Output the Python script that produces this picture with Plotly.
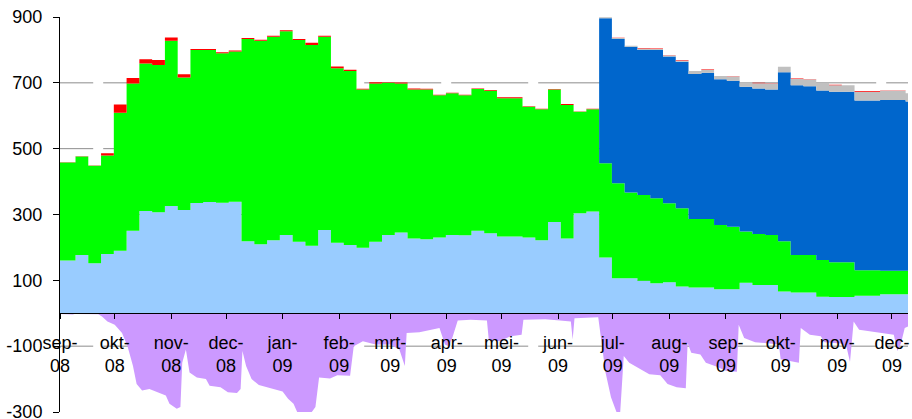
import pandas as pd
import plotly.graph_objects as go

# ---------------- data ----------------
# weekly series; first value from 1 Sep 2008, then weekly changes
first_date = "2008-09-01"
week_change_start = "2008-09-09 12:00"
n_changes = 66
end_date = "2009-12-09 19:00"

light_blue = [160, 177, 152, 180, 190, 251, 311, 307, 326, 314,
              335, 338, 336, 339, 219, 210, 222, 238, 217, 205,
              253, 214, 207, 199, 217, 238, 245, 227, 225, 230,
              238, 237, 251, 243, 233, 233, 230, 222, 277, 227,
              304, 309, 169, 106, 106, 99, 91, 94, 81, 78,
              78, 73, 73, 93, 86, 86, 66, 63, 63, 50,
              49, 49, 53, 53, 58, 58, 58]

green = [298, 299, 296, 299, 419, 447, 448, 447, 502, 402,
         465, 462, 454, 456, 614, 618, 618, 619, 613, 610,
         587, 530, 529, 481, 481, 462, 453, 453, 455, 432,
         430, 425, 430, 433, 420, 420, 397, 398, 403, 406,
         308, 311, 287, 289, 261, 260, 258, 240, 238, 208,
         208, 195, 190, 155, 155, 152, 153, 114, 114, 112,
         106, 106, 78, 78, 71, 71, 71]

dark_blue = [0] * 42 + [440, 438, 443, 441, 451, 446, 445, 441,
                        445, 443, 443, 440, 442, 442, 513, 516, 513, 515,
                        518, 518, 515, 515, 519, 519, 514]

grey = [0] * 42 + [3, 3, 3, 4, 3, 3, 4, 9,
                   9, 10, 13, 13, 16, 17, 17, 19, 20, 23,
                   20, 20, 27, 27, 28, 28, 25]

red = [1, 1, 1, 7, 25, 17, 13, 15, 10, 10,
       3, 3, 3, 3, 3, 3, 3, 3, 3, 7,
       3, 6, 4, 2, 4, 2, 3, 3, 2, 2,
       2, 2, 2, 2, 3, 3, 2, 1, 1, 3,
       1, 1, 0, 1, 0, 2, 1, 1, 1, 0,
       1, 0, 1, 0, 1, 1, 0, 1, 1, 0,
       1, 0, 2, 2, 1, 1, 0]

# daily-ish negative series: days since 1 Sep 2008 and values
purple_days = [0, 7, 8, 21, 23, 26, 30, 34, 37, 40, 42, 45, 49, 54, 58, 60, 64, 66, 67, 69,
               71, 75, 80, 82, 88, 92, 97, 99, 100, 102, 105, 109, 113, 117, 122, 125, 128, 130, 134, 138,
               140, 142, 148, 152, 159, 161, 166, 173, 181, 186, 189, 190, 197, 204, 208, 211, 213, 215, 218, 225,
               234, 235, 241, 247, 253, 254, 266, 274, 280, 281, 282, 295, 297, 299, 302, 305, 307, 309, 312, 318,
               323, 329, 333, 338, 343, 344, 346, 351, 354, 359, 365, 371, 372, 375, 381, 389, 394, 395, 400, 405,
               406, 411, 417, 419, 428, 431, 433, 435, 438, 445, 452, 457, 459, 461, 463, 464.8]
purple = [-2, -4, -2, -3, -10, -25, -35, -60, -100, -160, -215, -235, -230, -240, -250, -275, -290, -285, -150, -110,
          -180, -195, -200, -220, -225, -240, -242, -230, -115, -160, -200, -218, -225, -230, -238, -260, -275, -300, -305, -300,
          -285, -195, -198, -188, -190, -100, -85, -95, -95, -110, -160, -60, -58, -50, -45, -95, -100, -75, -22, -20,
          -22, -80, -85, -70, -65, -20, -18, -22, -25, -80, -15, -12, -100, -180, -255, -300, -305, -130, -150, -170,
          -185, -188, -215, -225, -228, -90, -120, -125, -150, -160, -175, -178, -35, -75, -88, -92, -95, -140, -145, -150,
          -45, -65, -70, -88, -92, -100, -148, -25, -50, -55, -60, -65, -115, -90, -45, -40]

month_ticks = ["2008-09-01", "2008-10-01", "2008-11-01", "2008-12-01", "2009-01-01", "2009-02-01",
               "2009-03-01", "2009-04-01", "2009-05-01", "2009-06-01", "2009-07-01", "2009-08-01",
               "2009-09-01", "2009-10-01", "2009-11-01", "2009-12-01"]
month_labels = ["sep-<br>08", "okt-<br>08", "nov-<br>08", "dec-<br>08", "jan-<br>09", "feb-<br>09",
                "mrt-<br>09", "apr-<br>09", "mei-<br>09", "jun-<br>09", "jul-<br>09", "aug-<br>09",
                "sep-<br>09", "okt-<br>09", "nov-<br>09", "dec-<br>09"]
y_ticks = [-300, -100, 100, 300, 500, 700, 900]
y_tick_labels = ["-300", "-100", "100", "300", "500", "700", "900"]
grid_values = [-100, 100, 300, 500, 700]

# ---------------- build ----------------
x_week = ([pd.Timestamp(first_date)]
          + list(pd.date_range(week_change_start, periods=n_changes, freq="7D"))
          + [pd.Timestamp(end_date)])


def ext(v):
    return list(v) + [v[-1]]


x_purple = [pd.Timestamp(first_date) + pd.Timedelta(days=d) for d in purple_days]

FONT = "Liberation Sans, Arial, sans-serif"

fig = go.Figure()
series = [
    (light_blue, "#99CCFF"),
    (green, "#00FF00"),
    (dark_blue, "#0066CC"),
    (grey, "#C0C0C0"),
    (red, "#FF0000"),
]
for vals, col in series:
    fig.add_trace(go.Scatter(
        x=x_week, y=ext(vals), mode="lines", stackgroup="pos",
        line=dict(width=0, shape="hv", color=col), fillcolor=col,
        hoverinfo="skip", showlegend=False))

fig.add_trace(go.Scatter(
    x=x_purple, y=purple, mode="lines", fill="tozeroy",
    line=dict(width=0, color="#CC99FF"), fillcolor="#CC99FF",
    hoverinfo="skip", showlegend=False))

for gv in grid_values:
    fig.add_shape(type="line", xref="x", yref="y",
                  x0="2008-08-08", x1=end_date, y0=gv, y1=gv,
                  line=dict(color="#8c8c8c", width=1, dash="77px,10px"),
                  layer="below")

fig.update_layout(
    width=912, height=419,
    margin=dict(l=60, r=4, t=17, b=7),
    paper_bgcolor="white", plot_bgcolor="white",
    font=dict(family=FONT, size=18, color="black"),
    showlegend=False,
    xaxis=dict(
        type="date", range=[first_date, end_date],
        anchor="free", position=0.25,
        tickvals=month_ticks, ticktext=month_labels,
        ticks="outside", ticklen=5, tickcolor="black", tickwidth=1,
        showline=True, linecolor="black", linewidth=1,
        showgrid=False, zeroline=False, automargin=False,
        ticklabelstandoff=8, ticklabeloverflow="allow",
        tickfont=dict(family=FONT, size=18, color="black"),
    ),
    yaxis=dict(
        range=[-300, 900], tickvals=y_ticks, ticktext=y_tick_labels,
        ticks="outside", ticklen=6, tickcolor="black", tickwidth=1,
        showline=True, linecolor="black", linewidth=1,
        showgrid=False, zeroline=False, automargin=False,
        ticklabelstandoff=7, ticklabeloverflow="allow",
        tickfont=dict(family=FONT, size=18, color="black"),
    ),
)

fig.write_html(
    "out.html",
    config={"displayModeBar": False},
    post_script="document.body.style.margin='0px';document.body.style.overflow='hidden';",
)
